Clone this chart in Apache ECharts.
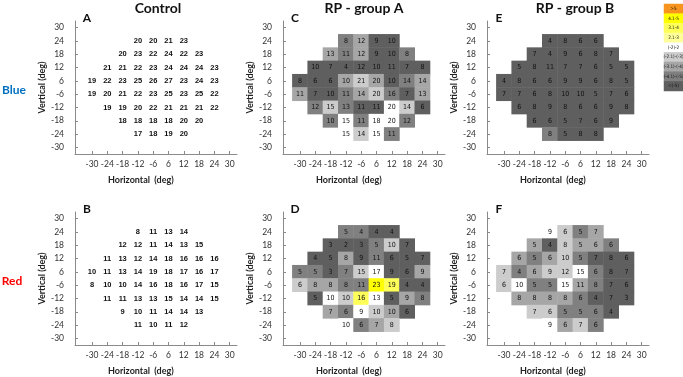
<!DOCTYPE html>
<html><head><meta charset="utf-8">
<script src="https://cdn.jsdelivr.net/npm/echarts@6/dist/echarts.min.js"></script>
<style>html,body{margin:0;padding:0;background:#fff}#c{width:683px;height:377px}</style>
</head><body><div id="c"></div><script>
// ---- data ----
const xCats = ['-30','-24','-18','-12','-6','6','12','18','24','30'];
const yCats = ['-30','-24','-18','-12','-6','6','12','18','24','30'];
// test point locations, row by row (top to bottom)
const rowY = ['24','18','12','6','-6','-12','-18','-24'];
const rowX = [
  ['-12','-6','6','12'],
  ['-18','-12','-6','6','12','18'],
  ['-24','-18','-12','-6','6','12','18','24'],
  ['-30','-24','-18','-12','-6','6','12','18','24'],
  ['-30','-24','-18','-12','-6','6','12','18','24'],
  ['-24','-18','-12','-6','6','12','18','24'],
  ['-18','-12','-6','6','12','18'],
  ['-12','-6','6','12']
];
const legendLabels = ['>5','4.1-5','3.1-4','2.1-3','(-2)-2','(-2.1)-(-3)','(-3.1)-(-4)','(-4.1)-(-5)','<(-5)'];

const controlBlue = [
  [20,20,21,23],
  [20,23,22,24,22,23],
  [21,21,22,23,24,24,24,23],
  [19,22,23,25,26,27,23,24,23],
  [19,20,21,22,23,25,23,25,22],
  [19,19,20,22,21,21,21,22],
  [18,18,18,18,20,20],
  [17,18,19,20]
];
const controlRed = [
  [8,11,13,14],
  [12,12,11,14,13,15],
  [11,13,12,14,18,16,16,16],
  [10,11,13,14,19,18,17,16,17],
  [8,10,10,14,16,18,16,17,15],
  [11,11,13,13,15,14,14,15],
  [9,10,11,14,14,13],
  [11,10,11,12]
];
const groupABlue = [
  [8,12,9,10],
  [13,11,12,9,10,8],
  [10,7,4,12,10,11,7,8],
  [8,6,6,10,21,20,10,14,14],
  [11,7,10,11,14,20,16,7,13],
  [12,15,13,11,11,20,14,6],
  [10,15,11,18,20,12],
  [15,14,15,11]
];
// class = index into legendLabels
const groupABlueClass = [
  [7,6,8,8],
  [6,7,6,8,8,7],
  [8,8,8,8,8,8,8,8],
  [8,8,8,6,5,6,8,7,6],
  [6,8,8,7,6,5,7,8,6],
  [7,5,7,8,8,4,5,8],
  [7,4,7,4,4,7],
  [4,5,4,7]
];
const groupARed = [
  [5,4,4,4],
  [3,2,3,5,10,7],
  [4,5,8,9,11,6,5,7],
  [5,5,3,7,15,17,9,6,9],
  [6,8,8,8,11,23,19,4,4],
  [5,10,10,16,13,5,9,8],
  [7,6,9,10,10,6],
  [10,6,7,8]
];
const groupARedClass = [
  [7,7,8,8],
  [8,8,8,7,5,8],
  [8,8,6,8,7,8,8,8],
  [7,7,8,7,5,4,8,8,6],
  [5,6,6,7,7,1,2,8,8],
  [8,4,5,2,4,8,6,7],
  [6,7,4,5,6,8],
  [4,7,6,5]
];
const groupBBlue = [
  [4,8,6,6],
  [7,4,9,6,8,7],
  [5,8,11,7,7,6,5,5],
  [4,8,6,6,9,9,6,8,5],
  [7,7,6,8,10,10,5,7,6],
  [6,8,9,8,6,6,9,8],
  [6,6,5,7,6,9],
  [8,5,8,8]
];
const groupBBlueClass = [
  [8,8,8,8],
  [8,8,8,8,8,8],
  [8,8,8,8,8,8,8,8],
  [8,8,8,8,8,8,8,8,8],
  [8,8,8,8,8,8,8,8,8],
  [8,8,8,8,8,8,8,8],
  [8,8,8,8,8,8],
  [7,8,8,8]
];
const groupBRed = [
  [9,6,5,7],
  [5,4,8,5,6,6],
  [6,5,6,10,5,7,8,6],
  [7,4,6,9,12,15,6,8,7],
  [6,10,5,5,15,11,8,7,6],
  [8,8,8,8,6,4,7,3],
  [7,6,5,5,6,4],
  [9,6,7,6]
];
const groupBRedClass = [
  [4,5,7,6],
  [6,8,5,6,6,7],
  [6,7,6,5,7,8,8,8],
  [5,7,6,5,5,4,7,8,8],
  [5,4,7,7,4,6,7,8,8],
  [6,6,6,6,7,8,8,8],
  [5,5,7,7,7,8],
  [4,6,5,7]
];

// ---- styles ----
const classColors = ['#f7941d','#ffff00','#ffff5a','#ffff99','#ffffff','#cccccc','#a6a6a6','#808080','#5f5f5f'];
const axisColor = '#8a8a8a';
const tickFont = 'Lato, "Open Sans", sans-serif';
const axisLeft = [75, 283, 487];
const gridTop = [21, 212];
const gridH = 133;

const panels = [
  {letter:'A', values:controlBlue, classes:null, col:0, row:0},
  {letter:'C', values:groupABlue, classes:groupABlueClass, col:1, row:0},
  {letter:'E', values:groupBBlue, classes:groupBBlueClass, col:2, row:0},
  {letter:'B', values:controlRed, classes:null, col:0, row:1},
  {letter:'D', values:groupARed, classes:groupARedClass, col:1, row:1},
  {letter:'F', values:groupBRed, classes:groupBRedClass, col:2, row:1}
];

function cells(values, classes) {
  const out = [];
  rowY.forEach((y, r) => rowX[r].forEach((x, c) => {
    out.push({
      value: [x, y, values[r][c]],
      itemStyle: {color: classes ? classColors[classes[r][c]] : 'rgba(0,0,0,0)'}
    });
  }));
  return out;
}

const grid = [], xAxis = [], yAxis = [], series = [], graphic = [];
panels.forEach((p, i) => {
  const L = axisLeft[p.col], T = gridTop[p.row];
  const gDeco = grid.length;
  grid.push({left: L, top: T, width: 162, height: gridH});
  xAxis.push({gridIndex: gDeco, type: 'value', min: 0, max: 1,
    axisLine: {show: true, onZero: false, lineStyle: {color: axisColor, width: 1}},
    axisTick: {show: false}, axisLabel: {show: false}, splitLine: {show: false}});
  yAxis.push({gridIndex: gDeco, type: 'value', min: 0, max: 1, show: false});
  const gData = grid.length;
  grid.push({left: L + 9.35, top: T, width: 153, height: gridH});
  xAxis.push({gridIndex: gData, type: 'category', data: xCats,
    axisLine: {show: false},
    axisTick: {show: true, inside: true, alignWithLabel: true, length: 3, lineStyle: {color: axisColor}},
    axisLabel: {interval: 0, fontSize: 8.5, color: '#333', margin: 6, fontFamily: tickFont},
    splitLine: {show: false},
    name: 'Horizontal  (deg)', nameLocation: 'middle', nameGap: 22,
    nameTextStyle: {fontWeight: 'bold', fontSize: 9, color: '#222', fontFamily: tickFont, padding: [0, 40, 0, 0]}});
  yAxis.push({gridIndex: gData, type: 'category', data: yCats, offset: 9.35,
    axisLine: {show: true, lineStyle: {color: axisColor, width: 1}},
    axisTick: {show: true, inside: true, alignWithLabel: true, length: 3, lineStyle: {color: axisColor}},
    axisLabel: {interval: 0, fontSize: 8.5, color: '#333', margin: 11, fontFamily: tickFont},
    splitLine: {show: false},
    name: 'Vertical (deg)', nameLocation: 'middle', nameGap: 27,
    nameTextStyle: {fontWeight: 'bold', fontSize: 9, color: '#222', fontFamily: tickFont}});
  series.push({
    type: 'heatmap', xAxisIndex: gData, yAxisIndex: gData,
    data: cells(p.values, p.classes),
    emphasis: {disabled: true},
    label: {show: true, formatter: d => d.value[2], color: '#111',
      fontSize: p.classes ? 7 : 7.5,
      fontWeight: p.classes ? 'normal' : 'bold',
      fontFamily: p.classes ? '"Liberation Sans Narrow", "DejaVu Sans Condensed", sans-serif' : '"Liberation Sans", Arial, sans-serif'}
  });
  graphic.push({type: 'text', x: L + 12, y: T - 3, style: {text: p.letter, align: 'center', verticalAlign: 'middle',
    font: 'bold 12px Lato, sans-serif', fill: '#111'}});
});

// legend as a small heatmap
const gLeg = grid.length;
grid.push({left: 664, top: 4, width: 19, height: 87});
xAxis.push({gridIndex: gLeg, type: 'category', data: ['k'], show: false});
yAxis.push({gridIndex: gLeg, type: 'category', data: legendLabels, inverse: true, show: false});
series.push({
  type: 'heatmap', xAxisIndex: gLeg, yAxisIndex: gLeg,
  data: legendLabels.map((l, i) => ({value: [0, i, i], itemStyle: {color: classColors[i]}})),
  emphasis: {disabled: true},
  label: {show: true, formatter: d => legendLabels[d.value[1]], fontSize: 4.6, color: '#111',
    fontFamily: '"Liberation Sans Narrow", "DejaVu Sans Condensed", sans-serif'}
});

const titles = [['Control', 158], ['RP - group A', 364], ['RP - group B', 575]];
titles.forEach(t => graphic.push({type: 'text', x: t[1], y: 8, style: {text: t[0], align: 'center', verticalAlign: 'middle',
  font: 'bold 14px Lato, sans-serif', fill: '#111'}}));
graphic.push({type: 'text', x: 14, y: 90, style: {text: 'Blue', align: 'center', verticalAlign: 'middle', font: 'bold 12px Lato, sans-serif', fill: '#0070c0'}});
graphic.push({type: 'text', x: 12, y: 281, style: {text: 'Red', align: 'center', verticalAlign: 'middle', font: 'bold 12px Lato, sans-serif', fill: '#ff0000'}});

const chart = echarts.init(document.getElementById('c'), null, {renderer: 'canvas'});
chart.setOption({animation: false, grid, xAxis, yAxis, series, graphic});
</script></body></html>
